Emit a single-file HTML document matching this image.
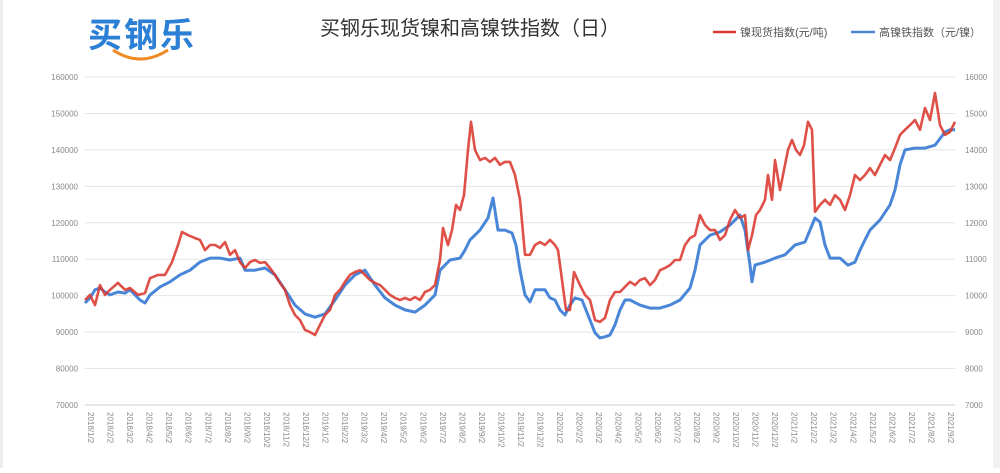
<!DOCTYPE html>
<html><head><meta charset="utf-8">
<style>
html,body{margin:0;padding:0;background:#fff;}
body{width:1000px;height:468px;overflow:hidden;font-family:"Liberation Sans","Noto Sans CJK SC",sans-serif;}
</style></head>
<body>
<svg id="chart" width="1000" height="468" viewBox="0 0 1000 468" xmlns="http://www.w3.org/2000/svg">
  <rect x="0" y="0" width="1000" height="468" fill="#fff"/>
  <rect x="0" y="0" width="3" height="468" fill="#ececec"/>
  <rect x="993" y="0" width="7" height="468" fill="#f2f2f2"/>
  <g>
    <text x="88" y="47" font-size="34" font-weight="bold" fill="#2b7fd4" font-family="'Liberation Sans','Noto Sans CJK SC',sans-serif" letter-spacing="2">买钢乐</text>
    <path d="M113 50 Q140 68 168 50" stroke="#f08a24" stroke-width="3" fill="none"/>
  </g>
  <text x="470" y="35" font-size="20" fill="#333" text-anchor="middle" font-family="'Liberation Sans','Noto Sans CJK SC',sans-serif">买钢乐现货镍和高镍铁指数（日）</text>
  <g>
    <g>
      <line x1="713" y1="32" x2="736" y2="32" stroke="#d9382f" stroke-width="2.5"/>
      <text x="740" y="36" font-size="11" fill="#555">镍现货指数(元/吨)</text>
    </g>
    <g>
      <line x1="851" y1="32" x2="875" y2="32" stroke="#4a86d8" stroke-width="2.5"/>
      <text x="879" y="36" font-size="11" fill="#555">高镍铁指数（元/镍）</text>
    </g>
  </g>
  <g id="grid"></g>
  <g id="yleft"></g>
  <g id="yright"></g>
  <g id="xlabels"></g>
  <g id="series"></g>
</svg>
<script>
const leftTicks = [70000,80000,90000,100000,110000,120000,130000,140000,150000,160000];
const rightTicks = [7000,8000,9000,10000,11000,12000,13000,14000,15000,16000];
const xCategories = [];
for (let y = 2018; y <= 2021; y++) for (let m = 1; m <= 12; m++) { if (xCategories.length < 45) xCategories.push(y + "/" + m + "/2"); }
// trading-day index (0..870) and values
const redT = [0,5,10,15,20,25,33,40,45,53,60,65,73,80,87,93,97,103,110,115,120,125,130,135,140,145,150,155,160,165,170,175,180,185,190,195,200,205,210,215,220,225,230,235,240,245,250,255,260,265,270,275,280,285,290,295,300,305,310,315,320,325,330,335,340,345,350,355,358,363,367,371,375,379,383,386,390,395,400,405,410,415,420,425,430,435,440,445,450,455,460,465,470,473,477,481,485,489,495,500,505,510,515,520,525,530,535,540,545,550,555,560,565,570,575,580,585,590,595,600,605,610,615,620,625,630,635,640,645,650,655,660,663,667,671,675,680,683,687,690,695,699,703,707,711,715,719,723,727,730,735,740,745,750,755,760,765,770,775,780,785,790,795,800,805,810,815,820,825,830,835,840,845,850,855,860,865,870];
const redV = [98800,100200,97400,102900,100200,101600,103500,101600,102100,100200,100700,104800,105700,105700,109200,113900,117500,116600,115800,115300,112500,113900,113900,113100,114700,111200,112500,109200,107600,109200,109800,109000,109200,107600,105700,103500,101600,97400,94700,93300,90600,90000,89200,92000,94700,96100,100200,101600,103800,105700,106500,107000,105700,104300,103500,102900,101600,100200,99400,98800,99400,98800,99600,98800,101000,101600,102900,109800,118600,113900,118000,124900,123500,127600,140000,147700,140000,137200,137800,136700,137800,135900,136700,136700,133100,126300,111200,111200,113900,114700,113900,115300,113900,112500,104300,96100,96100,106500,102900,100200,98800,93300,92800,93900,98800,101000,101000,102400,103800,102900,104300,104800,102900,104300,107000,107600,108400,109800,109800,113900,115800,116600,122100,119400,118000,118000,115300,116600,120800,123500,121300,122100,112500,116600,122100,123500,126300,133100,126300,137200,129000,134500,140000,142700,140000,138600,141300,147700,145500,123000,124900,126300,124900,127600,126300,123500,127600,133100,131700,133100,135000,133100,135900,138600,137200,140500,144100,145500,146800,148200,145500,151500,148200,155600,146800,144100,144900,147700];
const blueT = [0,5,10,15,20,25,33,40,45,55,60,65,75,85,95,105,115,125,135,145,155,160,170,180,190,200,210,220,230,240,250,260,270,280,290,300,310,320,330,340,350,355,360,365,375,380,385,395,403,408,413,420,427,431,435,440,445,450,460,465,470,475,480,485,490,497,505,510,515,520,525,530,535,540,545,555,565,575,585,595,605,610,615,625,635,645,655,660,665,667,670,680,690,700,710,720,725,730,735,740,745,755,763,770,775,780,785,795,805,810,815,820,830,840,850,860,865,870];
const blueV = [9800,9940,10160,10210,10100,10020,10100,10070,10160,9880,9800,10020,10240,10380,10570,10700,10920,11030,11030,10980,11030,10700,10700,10760,10570,10160,9740,9500,9410,9500,9880,10290,10570,10700,10290,9940,9740,9610,9550,9740,10020,10700,10840,10980,11030,11250,11530,11800,12130,12680,11800,11800,11720,11390,10700,10020,9830,10160,10160,9940,9880,9610,9470,9740,9940,9880,9330,8980,8840,8870,8920,9200,9610,9880,9880,9740,9660,9660,9740,9880,10210,10700,11390,11660,11750,11940,12210,11800,10840,10380,10840,10920,11030,11120,11390,11470,11800,12130,12020,11390,11030,11030,10840,10920,11250,11530,11800,12080,12490,12900,13590,14000,14050,14050,14130,14490,14550,14550,14820];
const NS = "http://www.w3.org/2000/svg";
const X0 = 85, X1 = 955, YB = 405, YT = 77;
const xScale = t => X0 + (t / 870) * (X1 - X0);
const yLeft = v => YB - (v - 70000) / 90000 * (YB - YT);
const yRight = v => YB - (v - 7000) / 9000 * (YB - YT);
const grid = document.getElementById('grid');
leftTicks.forEach((v) => {
  const l = document.createElementNS(NS, 'line');
  
  
  l.setAttribute('x1', X0); l.setAttribute('x2', X1);
  l.setAttribute('y1', yLeft(v)); l.setAttribute('y2', yLeft(v));
  l.setAttribute('stroke', v === 70000 ? '#cfcfcf' : '#e4e4e4'); l.setAttribute('stroke-width', '1');
  grid.appendChild(l);
  const t = document.createElementNS(NS, 'text');
  
  
  t.setAttribute('x', 78); t.setAttribute('y', yLeft(v) + 3);
  t.setAttribute('text-anchor', 'end'); t.setAttribute('font-size', '8'); t.setAttribute('fill', '#888');
  t.textContent = v;
  document.getElementById('yleft').appendChild(t);
});
rightTicks.forEach((v) => {
  const t = document.createElementNS(NS, 'text');
  
  
  t.setAttribute('x', 965); t.setAttribute('y', yRight(v) + 3);
  t.setAttribute('font-size', '8'); t.setAttribute('fill', '#888');
  t.textContent = v;
  document.getElementById('yright').appendChild(t);
});
xCategories.forEach((c, i) => {
  const x = X0 + i * (X1 - X0 - 10) / (xCategories.length - 1) + 3;
  const t = document.createElementNS(NS, 'text');
  
  
  t.setAttribute('transform', `translate(${x},412) rotate(90)`);
  t.setAttribute('font-size', '8'); t.setAttribute('fill', '#888');
  t.textContent = c;
  document.getElementById('xlabels').appendChild(t);
});
function path(ts, vs, ys) {
  return ts.map((t, i) => (i ? 'L' : 'M') + xScale(t).toFixed(1) + ' ' + ys(vs[i]).toFixed(1)).join(' ');
}
const s = document.getElementById('series');
const bp = document.createElementNS(NS, 'path');


bp.setAttribute('d', path(blueT, blueV, yRight));
bp.setAttribute('fill', 'none'); bp.setAttribute('stroke', '#4a86d8'); bp.setAttribute('stroke-width', '3'); bp.setAttribute('stroke-linejoin', 'round');
s.appendChild(bp);
const rp = document.createElementNS(NS, 'path');


rp.setAttribute('d', path(redT, redV, yLeft));
rp.setAttribute('fill', 'none'); rp.setAttribute('stroke', '#d9382f'); rp.setAttribute('stroke-width', '2.6'); rp.setAttribute('stroke-linejoin', 'round'); rp.setAttribute('stroke-opacity', '0.88');
s.appendChild(rp);
</script>
</body></html>
